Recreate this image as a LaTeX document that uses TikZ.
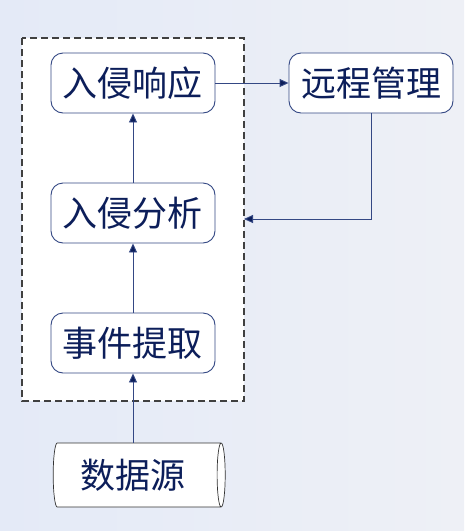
\documentclass[tikz,border=0pt]{standalone}
\usepackage{fontspec}
\newfontfamily\cjk{Noto Sans CJK SC}
\usetikzlibrary{arrows.meta,shapes.geometric}
\definecolor{navy}{RGB}{12,30,90}
\definecolor{edge}{RGB}{52,72,132}
\definecolor{bgl}{RGB}{228,234,247}
\definecolor{bgr}{RGB}{238,240,246}
\begin{document}
\begin{tikzpicture}[x=1pt,y=-1pt,
	box/.style={draw=edge,fill=white,rounded corners=12pt,line width=.9pt,minimum width=164pt,minimum height=60pt,inner sep=0pt,text=navy,font=\cjk\fontsize{35}{35}\selectfont},
	src/.style={cylinder,aspect=.25,draw=black!80,fill=white,line width=.7pt,minimum width=64pt,minimum height=172pt,inner sep=0pt,text=navy,font=\cjk\fontsize{35}{35}\selectfont},
	link/.style={draw=edge,line width=.9pt,-{Triangle[length=9pt,width=8pt,fill=navy]}}]
	\useasboundingbox (0,0) rectangle (464,531);
	\shade[left color=bgl,right color=bgr] (0,0) rectangle (464,531);
	% dashed frame
	\draw[black!75,fill=white,line width=1.2pt,dash pattern=on 7pt off 4pt] (22,38) rectangle (244,401);
	\coordinate (frameE) at (244,219);
	\node[box] (resp) at (133,83) {入侵响应};
	\node[box] (remote) at (371,83) {远程管理};
	\node[box] (anal) at (133,213) {入侵分析};
	\node[box] (extr) at (133,343) {事件提取};
	\node[src] (data) at (137,475) {\hspace*{-8pt}数据源};
	\draw[link] (resp) -- (remote);
	\draw[link] (remote.south) |- (frameE);
	\draw[link] (anal) -- (resp);
	\draw[link] (extr) -- (anal);
	\draw[link] (data.north -| extr) -- (extr);
\end{tikzpicture}
\end{document}
